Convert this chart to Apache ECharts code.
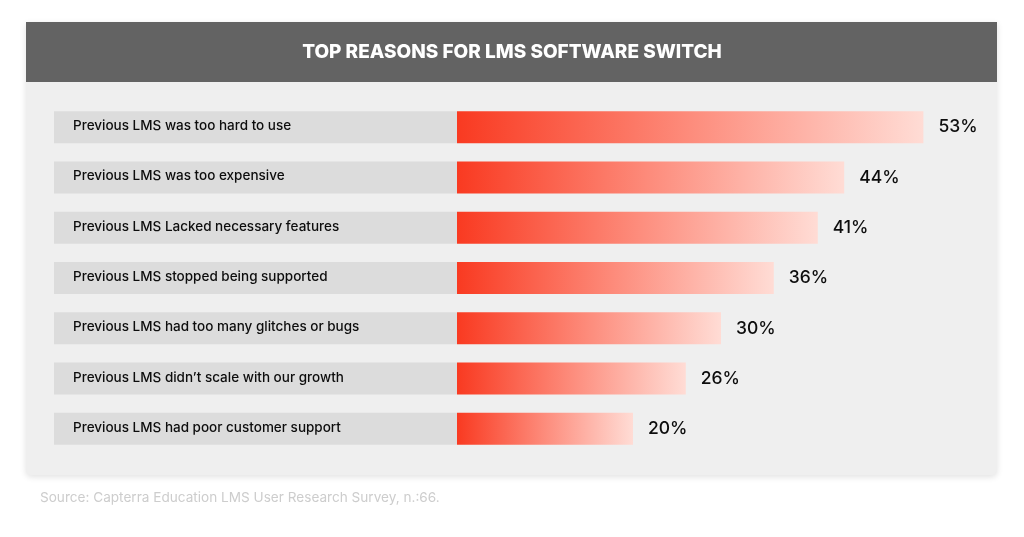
<!DOCTYPE html>
<html>
<head>
<meta charset="utf-8">
<script src="https://cdn.jsdelivr.net/npm/echarts@6/dist/echarts.min.js"></script>
<style>
  html, body { margin: 0; padding: 0; background: #ffffff; }
  #chart { width: 1024px; height: 537px; }
</style>
</head>
<body>
<div id="chart"></div>
<script>
const titleText = 'TOP REASONS FOR LMS SOFTWARE SWITCH';
const sourceText = 'Source: Capterra Education LMS User Research Survey, n.:66.';
const categories = [
  'Previous LMS was too hard to use',
  'Previous LMS was too expensive',
  'Previous LMS Lacked necessary features',
  'Previous LMS stopped being supported',
  'Previous LMS had too many glitches or bugs',
  'Previous LMS didn\u2019t scale with our growth',
  'Previous LMS had poor customer support'
];
const values = [53, 44, 41, 36, 30, 26, 20];

const chart = echarts.init(document.getElementById('chart'), null, { renderer: 'canvas' });
const FONT = 'Inter, "Noto Sans", sans-serif';

chart.setOption({
  backgroundColor: '#ffffff',
  animation: false,
  graphic: [
    {
      type: 'rect', z: -10, silent: true,
      shape: { x: 26, y: 22, width: 971, height: 453, r: [0, 0, 5, 5] },
      style: { fill: '#efefef', shadowBlur: 6, shadowColor: 'rgba(0,0,0,0.12)', shadowOffsetY: 2 }
    },
    {
      type: 'rect', z: -9, silent: true,
      shape: { x: 26, y: 22, width: 971, height: 60 },
      style: { fill: '#636363' }
    },
    {
      type: 'text', z: 10, silent: true,
      x: 512, y: 52,
      style: {
        text: titleText, fill: '#ffffff', font: '800 19px ' + FONT,
        align: 'center', verticalAlign: 'middle'
      }
    },
    {
      type: 'text', z: 10, silent: true,
      x: 40, y: 498,
      style: {
        text: sourceText, fill: '#cdcdcd', font: '13.6px ' + FONT,
        align: 'left', verticalAlign: 'middle'
      }
    }
  ],
  grid: { left: 457, right: 39, top: 102, bottom: 83, containLabel: false },
  xAxis: {
    type: 'value', min: 0, max: 60,
    show: false
  },
  yAxis: {
    type: 'category', data: categories, inverse: true,
    axisLine: { show: false }, axisTick: { show: false }, splitLine: { show: false },
    axisLabel: {
      align: 'left', margin: 403,
      formatter: v => '{a|' + v + '}',
      rich: {
        a: {
          width: 384, height: 30, lineHeight: 30,
          backgroundColor: '#dcdcdc', padding: [0, 0, 2, 19],
          fontSize: 13.5, fontWeight: 500, color: '#0d0d0d', fontFamily: FONT
        }
      }
    }
  },
  series: [{
    type: 'bar',
    data: values,
    barWidth: 32,
    itemStyle: {
      color: new echarts.graphic.LinearGradient(0, 0, 1, 0, [
        { offset: 0, color: '#f93a21' },
        { offset: 0.5, color: '#fd8c7c' },
        { offset: 1, color: '#ffdcd5' }
      ])
    },
    label: {
      show: true, position: 'right', distance: 15,
      formatter: p => p.value + '%',
      fontSize: 17.5, fontWeight: 500, color: '#0d0d0d', fontFamily: FONT
    }
  }]
});
</script>
</body>
</html>
